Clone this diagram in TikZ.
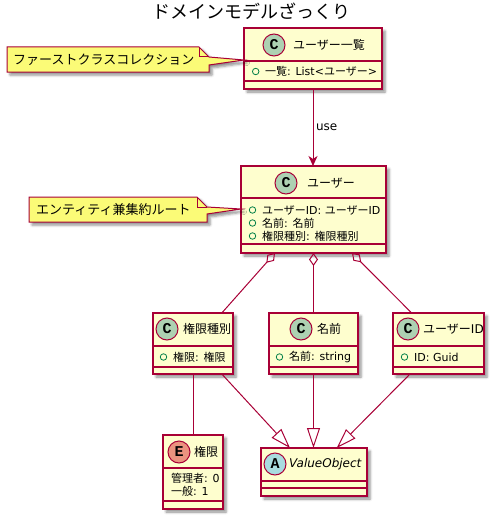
\documentclass[tikz,border=0pt]{standalone}
\usepackage{fontspec}
\setmainfont{DejaVu Sans}
\newfontfamily\jp{Noto Sans CJK JP}
\newfontfamily\monob{Liberation Mono Bold}
\usetikzlibrary{arrows.meta,shadows.blur,calc}
\definecolor{umlborder}{HTML}{A80036}
\definecolor{umlfill}{HTML}{FEFECE}
\definecolor{notefill}{HTML}{FBFB77}
\definecolor{cicon}{HTML}{ADD1B2}
\definecolor{eicon}{HTML}{EB937F}
\definecolor{aicon}{HTML}{A9DCDF}
\definecolor{visgreen}{HTML}{038048}
\begin{document}
\begin{tikzpicture}[x=1pt,y=-1pt,
  umlshadow/.style={blur shadow={shadow xshift=3pt, shadow yshift=-3pt, shadow blur radius=2.5pt, shadow opacity=45}},
  cls/.style={draw=umlborder, fill=umlfill, line width=1.2pt, inner sep=0pt, outer sep=0pt, umlshadow},
  sep/.style={draw=umlborder, line width=1.2pt},
  icon/.style={circle, draw=umlborder, line width=1pt, minimum size=22pt, inner sep=0pt, font=\monob\fontsize{15}{15}\selectfont},
  cname/.style={anchor=west, inner sep=0pt, font=\fontsize{12}{14}\selectfont},
  attr/.style={anchor=west, inner sep=0pt, font=\fontsize{11}{13}\selectfont},
  vis/.style={circle, draw=visgreen, line width=0.8pt, minimum size=6.5pt, inner sep=0pt},
  conn/.style={draw=umlborder, line width=1pt},
  notebox/.style={draw=umlborder, fill=notefill, line width=1pt, umlshadow},
  notefold/.style={draw=umlborder, line width=1pt},
  notetext/.style={anchor=west, inner sep=0pt, font=\jp\fontsize{13}{15}\selectfont}
]
\useasboundingbox (0,0) rectangle (495,519);
\node[font=\jp\fontsize{18}{20}\selectfont, inner sep=0pt] (title) at (251,11) {ドメインモデルざっくり};

% ---- ユーザー一覧
\node[cls, minimum width=138pt, minimum height=61pt] (ul) at (313,58.5) {};
\draw[sep] (ul.west |- 0,61) -- (ul.east |- 0,61);
\draw[sep] (ul.west |- 0,81) -- (ul.east |- 0,81);
\node[icon, fill=cicon] (ulC) at (274,45) {C};
\node[cname] (ulN) at (293,45) {{\jp ユーザー一覧}};
\node[vis] (ulv1) at (255.7,71.5) {};
\node[attr] (ula1) at (265,71.5) {{\jp 一覧}: List<{\jp ユーザー}>};

% ---- ユーザー
\node[cls, minimum width=145pt, minimum height=87pt] (u) at (313.5,209.5) {};
\draw[sep] (u.west |- 0,198) -- (u.east |- 0,198);
\draw[sep] (u.west |- 0,244) -- (u.east |- 0,244);
\node[icon, fill=cicon] (uC) at (286,183) {C};
\node[cname] (uN) at (307,183) {{\jp ユーザー}};
\node[vis] (uv1) at (252.5,210) {};
\node[attr] (ua1) at (262,210) {{\jp ユーザー}ID: {\jp ユーザー}ID};
\node[vis] (uv2) at (252.5,223) {};
\node[attr] (ua2) at (262,223) {{\jp 名前}: {\jp 名前}};
\node[vis] (uv3) at (252.5,236) {};
\node[attr] (ua3) at (262,236) {{\jp 権限種別}: {\jp 権限種別}};

% ---- 権限種別
\node[cls, minimum width=80pt, minimum height=61pt] (kg) at (193,343.5) {};
\draw[sep] (kg.west |- 0,346) -- (kg.east |- 0,346);
\draw[sep] (kg.west |- 0,367) -- (kg.east |- 0,367);
\node[icon, fill=cicon] (kgC) at (167,329) {C};
\node[cname] (kgN) at (183,329) {{\jp 権限種別}};
\node[vis] (kgv1) at (163.5,357) {};
\node[attr] (kga1) at (173,357) {{\jp 権限}: {\jp 権限}};

% ---- 名前
\node[cls, minimum width=89pt, minimum height=61pt] (nm) at (313.5,343.5) {};
\draw[sep] (nm.west |- 0,346) -- (nm.east |- 0,346);
\draw[sep] (nm.west |- 0,367) -- (nm.east |- 0,367);
\node[icon, fill=cicon] (nmC) at (301,329) {C};
\node[cname] (nmN) at (317,329) {{\jp 名前}};
\node[vis] (nmv1) at (279.5,357) {};
\node[attr] (nma1) at (289,357) {{\jp 名前}: string};

% ---- ユーザーID
\node[cls, minimum width=91pt, minimum height=61pt] (uid) at (438.5,343.5) {};
\draw[sep] (uid.west |- 0,346) -- (uid.east |- 0,346);
\draw[sep] (uid.west |- 0,367) -- (uid.east |- 0,367);
\node[icon, fill=cicon] (uidC) at (408,329) {C};
\node[cname] (uidN) at (423,329) {{\jp ユーザー}ID};
\node[vis] (uidv1) at (404.5,357) {};
\node[attr] (uida1) at (414,357) {ID: Guid};

% ---- 権限 (enum)
\node[cls, minimum width=60pt, minimum height=74pt] (kn) at (193,472) {};
\draw[sep] (kn.west |- 0,468) -- (kn.east |- 0,468);
\draw[sep] (kn.west |- 0,501) -- (kn.east |- 0,501);
\node[icon, fill=eicon] (knE) at (179,452) {E};
\node[cname] (knN) at (194,452) {{\jp 権限}};
\node[attr] (kna1) at (171,478) {{\jp 管理者}: 0};
\node[attr] (kna2) at (171,491) {{\jp 一般}: 1};

% ---- ValueObject
\node[cls, minimum width=106pt, minimum height=48pt] (vo) at (314,472) {};
\draw[sep] (vo.west |- 0,481) -- (vo.east |- 0,481);
\draw[sep] (vo.west |- 0,488) -- (vo.east |- 0,488);
\node[icon, fill=aicon] (voA) at (275,464) {A};
\node[cname, font=\itshape\fontsize{12}{14}\selectfont] (voN) at (289,464) {ValueObject};

% ---- notes
\path[notebox] (7,47) -- (199,47) -- (209,57) -- (ul.west |- 0,60) -- (209,65) -- (209,72) -- (7,72) -- cycle;
\draw[notefold] (199,47) -- (199,57) -- (209,57);
\node[notetext] (n1) at (13,60) {ファーストクラスコレクション};

\path[notebox] (29,197) -- (197,197) -- (207,207) -- (u.west |- 0,209) -- (207,214) -- (207,222) -- (29,222) -- cycle;
\draw[notefold] (197,197) -- (197,207) -- (207,207);
\node[notetext] (n2) at (36,210) {エンティティ兼集約ルート};

% ---- connectors
\draw[conn, -{Stealth[length=10pt,width=9pt,inset=3pt]}] (ul.south) -- node[right, inner sep=2.5pt, font=\fontsize{12}{14}\selectfont] (uselbl) {use} (ul.south |- u.north);

\draw[conn, {Diamond[open,length=13pt,width=9pt]}-] ($(u.south west)!0.2345!(u.south east)$) -- ($(kg.north west)!0.86!(kg.north east)$);
\draw[conn, {Diamond[open,length=13pt,width=9pt]}-] (u.south) -- (nm.north);
\draw[conn, {Diamond[open,length=13pt,width=9pt]}-] ($(u.south west)!0.7655!(u.south east)$) -- ($(uid.north west)!0.205!(uid.north east)$);

\draw[conn] (kg.south) -- (kn.north);
\draw[conn, -{Triangle[open,length=20pt,width=13pt]}] ($(kg.south west)!0.86!(kg.south east)$) -- ($(vo.north west)!0.2736!(vo.north east)$);
\draw[conn, -{Triangle[open,length=20pt,width=13pt]}] (nm.south) -- (nm.south |- vo.north);
\draw[conn, -{Triangle[open,length=20pt,width=13pt]}] ($(uid.south west)!0.187!(uid.south east)$) -- ($(vo.north west)!0.714!(vo.north east)$);
\end{tikzpicture}
\end{document}
